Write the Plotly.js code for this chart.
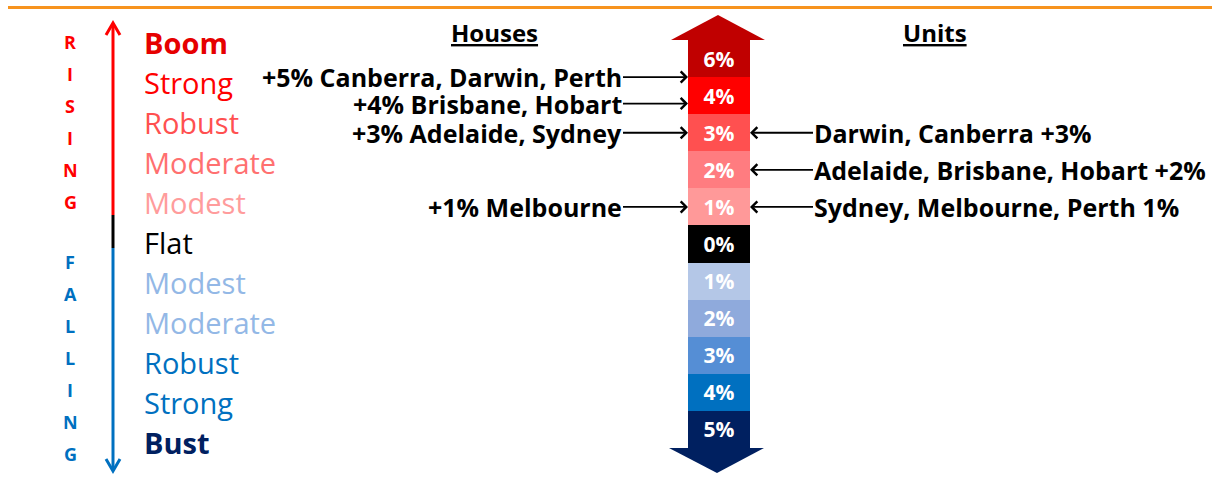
<!DOCTYPE html>
<html><head><meta charset="utf-8">
<script src="https://cdn.plot.ly/plotly-3.0.1.min.js"></script>
<style>html,body{margin:0;padding:0;background:#fff}#chart{width:1218px;height:480px}</style>
</head><body><div id="chart"></div>
<script>
// ---------------- data ----------------
const levelLabels = ['6%','4%','3%','2%','1%','0%','1%','2%','3%','4%','5%'];
const levelColors = ['#C00000','#FF0000','#FF5050','#FF7C80','#FF9999','#000000','#B4C7E7','#8FAADC','#558ED5','#0070C0','#002060'];
const marketTerms = ['Boom','Strong','Robust','Moderate','Modest','Flat','Modest','Moderate','Robust','Strong','Bust'];
const termColors = ['#E60000','#FF0000','#FF5050','#FF7070','#FF9C9C','#000000','#93B8E6','#93B8E6','#0070C0','#0070C0','#002060'];
const termBold = [true,false,false,false,false,false,false,false,false,false,true];
const housesPct = [5,4,3,1];
const housesLabels = ['+5% Canberra, Darwin, Perth','+4% Brisbane, Hobart','+3% Adelaide, Sydney','+1% Melbourne'];
const unitsPct = [3,2,1];
const unitsLabels = ['Darwin, Canberra +3%','Adelaide, Brisbane, Hobart +2%','Sydney, Melbourne, Perth 1%'];
const risingWord = 'RISING';
const fallingWord = 'FALLING';

// ---------------- layout constants ----------------
const W = 1218, H = 480;
const FONT = 'Open Sans, Noto Sans, sans-serif';
const UNIT = 37.09;          // px per level
const Y0 = 448;              // px of level 0 (bottom of column)
const COL_X = 719, COL_W = 62;
const N = levelLabels.length;
const px = x => x / W;
const py = y => 1 - y / H;

// level (y-axis value) for a rising percentage
function pctLevel(p) {
  const rising = [];
  for (let i = 0; i < N; i++) {
    if (levelLabels[i] === '0%') break;
    rising.push({v: parseFloat(levelLabels[i]), y: (N - 1 - i) + 0.5});
  }
  const hit = rising.find(r => r.v === p);
  if (hit) return hit.y;
  let lo = null, hi = null;
  rising.forEach(r => { if (r.v < p && (!lo || r.v > lo.v)) lo = r; if (r.v > p && (!hi || r.v < hi.v)) hi = r; });
  return (lo.y + hi.y) / 2;
}
function stacked(pcts, gapPx) {
  const gap = gapPx / UNIT; let prev = Infinity;
  return pcts.map(p => { const y = Math.min(pctLevel(p), prev - gap); prev = y; return y; });
}
const housesY = stacked(housesPct, 26.5);
const unitsY = stacked(unitsPct, 26.5);

// ---------------- traces ----------------
const column = {
  type: 'bar', x: levelLabels.map(() => COL_X), y: levelLabels.map(() => 1),
  base: levelLabels.map((_, i) => N - 1 - i), width: levelLabels.map(() => COL_W),
  marker: {color: levelColors, line: {width: 0}},
  text: levelLabels, textposition: 'inside', insidetextanchor: 'middle', textangle: 0,
  textfont: {family: FONT, size: 21, color: '#FFFFFF', weight: 700},
  hoverinfo: 'skip', showlegend: false
};
const terms = {
  type: 'scatter', mode: 'text', yaxis: 'y2', cliponaxis: false,
  x: marketTerms.map(() => 144), y: marketTerms.map((_, i) => N - 1 - i),
  text: marketTerms.map((t, i) => termBold[i] ? '<b>' + t + '</b>' : t),
  textposition: 'middle right',
  textfont: {family: FONT, size: 29, color: termColors},
  hoverinfo: 'skip', showlegend: false
};

// ---------------- annotations ----------------
const ann = [];
const LBL_FONT = {family: FONT, size: 25, color: '#000', weight: 700};
ann.push({xref:'x', yref:'paper', x: 494, y: py(33), xanchor: 'center', yanchor: 'middle', text: '<u>Houses</u>', showarrow: false,
  font: {family: FONT, size: 24, color: '#000', weight: 700}});
ann.push({xref:'x', yref:'paper', x: 935, y: py(33), xanchor: 'center', yanchor: 'middle', text: '<u>Units</u>', showarrow: false,
  font: {family: FONT, size: 24, color: '#000', weight: 700}});
housesLabels.forEach((t, i) => ann.push({
  xref: 'x', yref: 'y', axref: 'x', ayref: 'y', x: COL_X - COL_W / 2, y: housesY[i], ax: 623, ay: housesY[i],
  text: t, xanchor: 'right', yanchor: 'middle', showarrow: true, arrowhead: 4, arrowsize: 1.2, arrowwidth: 1.8,
  arrowcolor: '#000', standoff: 0, startstandoff: 0, borderpad: 0, font: LBL_FONT
}));
unitsLabels.forEach((t, i) => ann.push({
  xref: 'x', yref: 'y', axref: 'x', ayref: 'y', x: COL_X + COL_W / 2, y: unitsY[i], ax: 813, ay: unitsY[i],
  text: t, xanchor: 'left', yanchor: 'middle', showarrow: true, arrowhead: 4, arrowsize: 1.2, arrowwidth: 1.8,
  arrowcolor: '#000', standoff: 0, startstandoff: 0, borderpad: 0, font: LBL_FONT
}));
risingWord.split('').forEach((c, i) => ann.push({xref:'x', yref:'paper', x: 70, y: py(42 + i * 32), xanchor: 'center', yanchor: 'middle',
  text: '<b>' + c + '</b>', showarrow: false, font: {family: FONT, size: 18, color: '#FF0000'}}));
fallingWord.split('').forEach((c, i) => ann.push({xref:'x', yref:'paper', x: 70, y: py(262 + i * 32), xanchor: 'center', yanchor: 'middle',
  text: '<b>' + c + '</b>', showarrow: false, font: {family: FONT, size: 18, color: '#0070C0'}}));

// ---------------- shapes ----------------
const shp = [];
shp.push({type:'line', xref:'paper', yref:'paper', x0: px(8), x1: px(1212), y0: py(7.5), y1: py(7.5), line: {color:'#F7931E', width: 3}});
// column arrow heads
const topBase = N, topTip = N + 25 / UNIT, botBase = 0, botTip = -25 / UNIT;
shp.push({type:'path', xref:'x', yref:'y', path: `M ${COL_X-48},${topBase} L ${COL_X+46},${topBase} L ${COL_X-1},${topTip} Z`,
  fillcolor: levelColors[0], line: {width: 0}});
shp.push({type:'path', xref:'x', yref:'y', path: `M ${COL_X-50},${botBase} L ${COL_X+45},${botBase} L ${COL_X-2},${botTip} Z`,
  fillcolor: levelColors[N-1], line: {width: 0}});
// left rising / falling arrow
const AX = 113;
shp.push({type:'line', xref:'paper', yref:'paper', x0: px(AX), x1: px(AX), y0: py(24), y1: py(215), line: {color:'#FF0000', width: 3}});
shp.push({type:'line', xref:'paper', yref:'paper', x0: px(AX), x1: px(AX), y0: py(215), y1: py(248), line: {color:'#000000', width: 3}});
shp.push({type:'line', xref:'paper', yref:'paper', x0: px(AX), x1: px(AX), y0: py(248), y1: py(470), line: {color:'#0070C0', width: 3}});
shp.push({type:'path', xref:'paper', yref:'paper', path: `M ${px(AX-7)},${py(35)} L ${px(AX)},${py(23)} L ${px(AX+7)},${py(35)}`,
  line: {color:'#FF0000', width: 3}});
shp.push({type:'path', xref:'paper', yref:'paper', path: `M ${px(AX-7)},${py(459)} L ${px(AX)},${py(471)} L ${px(AX+7)},${py(459)}`,
  line: {color:'#0070C0', width: 3}});

const TERM_Y0 = 447; // px of the bottom term
const layout = {
  width: W, height: H, margin: {l:0, r:0, t:0, b:0}, paper_bgcolor: '#fff', plot_bgcolor: '#fff',
  xaxis: {range: [0, W], visible: false, fixedrange: true},
  yaxis: {range: [-(H - Y0) / UNIT, Y0 / UNIT], visible: false, fixedrange: true},
  yaxis2: {range: [-(H - TERM_Y0) / 40, TERM_Y0 / 40], overlaying: 'y', visible: false, fixedrange: true},
  barmode: 'overlay', bargap: 0, annotations: ann, shapes: shp, showlegend: false,
  font: {family: FONT}
};
Plotly.newPlot('chart', [column, terms], layout, {displayModeBar: false, staticPlot: true});
</script></body></html>
